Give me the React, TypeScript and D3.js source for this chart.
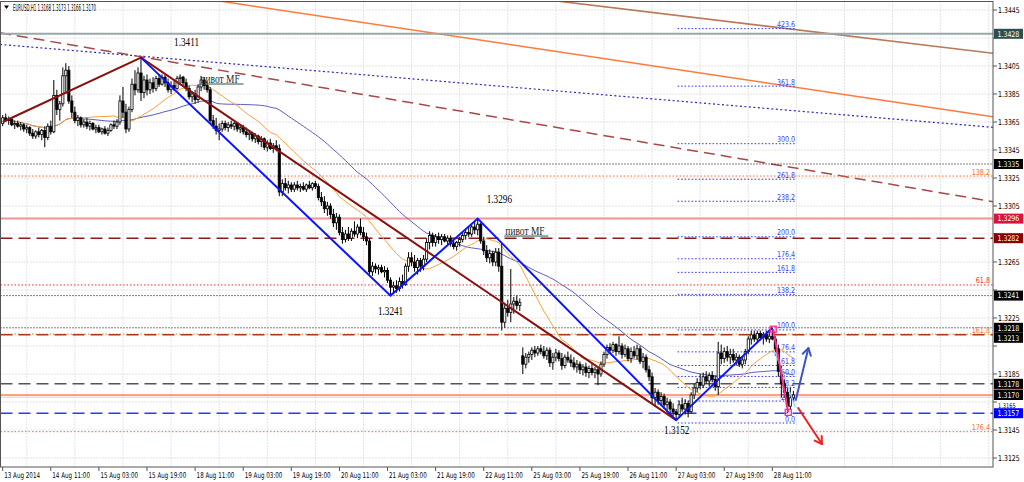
import React from 'react';
import * as d3 from 'd3';

const W = 1024;
const H = 482;

// ---------------- data ----------------
const SYMBOL = 'EURUSD,H1';
const LAST_OHLC = ['1.3168', '1.3173', '1.3166', '1.3170'];

const X_TICK_LABELS = [
  '13 Aug 2014', '14 Aug 11:00', '15 Aug 03:00', '15 Aug 19:00', '18 Aug 11:00', '19 Aug 03:00',
  '19 Aug 19:00', '20 Aug 11:00', '21 Aug 03:00', '21 Aug 19:00', '22 Aug 11:00', '25 Aug 03:00',
  '25 Aug 19:00', '26 Aug 11:00', '27 Aug 03:00', '27 Aug 19:00', '28 Aug 11:00',
];
const X_TICK_STEP = 16; // bars between time labels

const Y_TICKS = [
  1.3445, 1.3425, 1.3405, 1.3385, 1.3365, 1.3345, 1.3325, 1.3305, 1.3285,
  1.3265, 1.3245, 1.3225, 1.3205, 1.3185, 1.3165, 1.3145, 1.3125,
];

// hourly candles, [open, high, low, close] in 1/10000 above 1.0000
const CANDLES: [number, number, number, number][] = [
  [3364,3370,3362,3368],[3368,3371,3365,3366],[3366,3369,3363,3367],[3367,3368,3362,3363],[3363,3366,3360,3364],[3364,3366,3361,3362],[3362,3365,3359,3363],[3363,3364,3358,3360],[3360,3363,3357,3361],[3361,3362,3355,3357],
  [3357,3360,3353,3355],[3355,3359,3353,3358],[3358,3361,3354,3356],[3356,3360,3352,3359],[3359,3362,3347,3354],[3354,3364,3352,3362],[3362,3366,3356,3358],[3358,3395,3357,3384],[3384,3388,3370,3374],[3374,3380,3366,3378],
  [3378,3404,3376,3398],[3398,3407,3385,3402],[3402,3405,3378,3380],[3380,3384,3368,3372],[3372,3376,3364,3366],[3366,3370,3362,3368],[3368,3369,3361,3363],[3363,3367,3361,3365],[3365,3368,3360,3362],[3362,3366,3359,3364],
  [3364,3365,3359,3360],[3360,3363,3357,3361],[3361,3363,3357,3358],[3358,3361,3356,3360],[3360,3362,3356,3357],[3357,3361,3355,3359],[3359,3364,3358,3363],[3363,3366,3360,3362],[3362,3367,3360,3365],[3365,3384,3363,3380],
  [3380,3390,3368,3372],[3372,3378,3357,3360],[3360,3376,3358,3374],[3374,3396,3372,3392],[3392,3402,3384,3388],[3388,3404,3386,3400],[3400,3411,3380,3386],[3386,3398,3382,3395],[3395,3399,3384,3388],[3388,3396,3385,3393],
  [3393,3397,3386,3389],[3389,3398,3387,3396],[3396,3399,3390,3392],[3392,3399,3391,3397],[3397,3399,3390,3393],[3393,3396,3386,3388],[3388,3394,3385,3391],[3391,3395,3387,3389],[3389,3398,3388,3396],[3396,3399,3392,3397],
  [3397,3398,3391,3393],[3393,3396,3387,3389],[3389,3391,3381,3383],[3383,3387,3379,3385],[3385,3388,3378,3381],[3381,3392,3379,3390],[3390,3398,3387,3395],[3395,3397,3388,3391],[3391,3394,3386,3388],[3388,3390,3364,3366],
  [3366,3370,3360,3362],[3362,3368,3356,3359],[3359,3364,3352,3360],[3360,3366,3358,3364],[3364,3366,3359,3361],[3361,3365,3358,3363],[3363,3366,3360,3362],[3362,3365,3359,3364],[3364,3365,3358,3360],[3360,3363,3357,3361],
  [3361,3363,3356,3358],[3358,3361,3354,3356],[3356,3359,3352,3357],[3357,3358,3351,3353],[3353,3357,3350,3355],[3355,3356,3349,3351],[3351,3355,3347,3353],[3353,3354,3345,3347],[3347,3352,3344,3350],[3350,3353,3345,3346],
  [3346,3350,3343,3348],[3348,3352,3344,3346],[3346,3349,3312,3315],[3315,3324,3312,3321],[3321,3325,3316,3318],[3318,3323,3314,3320],[3320,3322,3315,3317],[3317,3322,3315,3320],[3320,3323,3316,3318],[3318,3321,3315,3319],
  [3319,3322,3316,3317],[3317,3321,3315,3320],[3320,3323,3317,3318],[3318,3322,3316,3321],[3321,3323,3317,3319],[3319,3321,3309,3311],[3311,3315,3305,3308],[3308,3312,3300,3303],[3303,3308,3298,3305],[3305,3307,3296,3299],
  [3299,3303,3290,3293],[3293,3300,3288,3297],[3297,3299,3284,3286],[3286,3290,3278,3281],[3281,3288,3279,3285],[3285,3290,3280,3282],[3282,3289,3280,3287],[3287,3294,3283,3285],[3285,3292,3282,3290],[3290,3296,3284,3286],
  [3286,3290,3280,3283],[3283,3286,3277,3280],[3280,3282,3256,3258],[3258,3265,3255,3262],[3262,3264,3257,3260],[3260,3263,3256,3261],[3261,3263,3257,3258],[3258,3262,3254,3259],[3259,3261,3250,3252],[3252,3254,3241,3247],
  [3247,3251,3243,3248],[3248,3252,3243,3246],[3246,3254,3244,3251],[3251,3256,3246,3249],[3249,3264,3248,3262],[3262,3272,3258,3268],[3268,3272,3262,3265],[3265,3270,3258,3261],[3261,3268,3256,3266],[3266,3268,3258,3262],
  [3262,3270,3259,3267],[3267,3282,3265,3279],[3279,3287,3274,3284],[3284,3286,3276,3279],[3279,3285,3276,3283],[3283,3286,3278,3281],[3281,3285,3277,3283],[3283,3285,3279,3280],[3280,3284,3277,3282],[3282,3284,3276,3278],
  [3278,3281,3274,3276],[3276,3280,3273,3279],[3279,3283,3276,3281],[3281,3286,3279,3284],[3284,3288,3281,3286],[3286,3290,3283,3285],[3285,3292,3283,3290],[3290,3294,3285,3288],[3288,3296,3284,3292],[3292,3293,3278,3280],
  [3280,3283,3270,3273],[3273,3277,3265,3268],[3268,3274,3264,3271],[3271,3273,3262,3265],[3265,3275,3262,3272],[3272,3275,3258,3262],[3262,3278,3216,3222],[3222,3236,3218,3232],[3232,3238,3226,3229],[3229,3260,3222,3235],
  [3235,3240,3228,3237],[3237,3241,3231,3234],[3234,3239,3230,3236],[3198,3204,3185,3192],[3192,3200,3189,3197],[3197,3201,3193,3199],[3199,3204,3195,3202],[3202,3205,3197,3200],[3200,3205,3198,3203],[3203,3206,3199,3201],
  [3201,3205,3196,3198],[3198,3204,3195,3202],[3202,3204,3190,3193],[3193,3200,3188,3197],[3197,3203,3194,3200],[3200,3202,3194,3196],[3196,3200,3188,3191],[3191,3199,3189,3197],[3197,3201,3193,3195],[3195,3199,3190,3193],
  [3193,3197,3188,3190],[3190,3195,3186,3192],[3192,3194,3185,3188],[3188,3192,3184,3190],[3190,3193,3183,3186],[3186,3191,3182,3189],[3189,3192,3184,3186],[3186,3190,3182,3188],[3188,3190,3177,3185],[3185,3194,3183,3192],
  [3192,3201,3190,3199],[3199,3206,3196,3204],[3204,3207,3199,3202],[3202,3208,3200,3206],[3206,3207,3198,3201],[3201,3212,3199,3205],[3205,3207,3196,3199],[3199,3206,3197,3203],[3203,3205,3194,3196],[3196,3204,3193,3201],
  [3201,3205,3196,3198],[3198,3206,3195,3203],[3203,3205,3192,3194],[3194,3200,3189,3197],[3197,3199,3186,3188],[3188,3191,3180,3183],[3183,3186,3164,3168],[3168,3175,3162,3172],[3172,3174,3163,3166],[3166,3172,3162,3169],
  [3169,3171,3160,3163],[3163,3168,3158,3165],[3165,3167,3157,3160],[3160,3164,3155,3158],[3158,3160,3152,3156],[3156,3166,3154,3163],[3163,3168,3158,3160],[3160,3167,3156,3164],[3164,3166,3154,3158],[3158,3172,3157,3170],
  [3170,3178,3167,3175],[3175,3182,3172,3179],[3179,3185,3174,3177],[3177,3186,3175,3183],[3183,3187,3178,3180],[3180,3186,3176,3184],[3184,3187,3179,3181],[3181,3184,3173,3176],[3176,3208,3170,3200],[3200,3206,3192,3196],
  [3196,3204,3193,3201],[3201,3205,3194,3197],[3197,3203,3192,3199],[3199,3203,3193,3195],[3195,3200,3191,3197],[3197,3199,3190,3192],[3192,3198,3189,3195],[3195,3203,3192,3201],[3201,3212,3199,3210],[3210,3216,3206,3213],
  [3213,3216,3208,3210],[3210,3216,3207,3214],[3214,3216,3209,3211],[3211,3215,3206,3213],[3213,3216,3208,3210],[3210,3215,3207,3212],[3212,3218,3209,3210],[3210,3212,3198,3203],[3203,3206,3183,3187],[3187,3191,3168,3178],
  [3178,3184,3168,3172],[3172,3176,3157,3162],[3162,3175,3160,3168],[3168,3173,3166,3170],
];

// moving average periods
const MA_FAST = 21;
const MA_SLOW = 50;

// horizontal price levels shown with boxes on the price axis
const LEVEL_PRICES = [1.3428, 1.3335, 1.3296, 1.3282, 1.3241, 1.3218, 1.3213, 1.3178, 1.3170, 1.3157];
const ASK_PRICE = 1.3173;

// second fibonacci grid (labels at right edge)
const FIB2_PRICES = [1.33264, 1.32486, 1.32135, 1.31438];
const FIB2_LABELS = ['138.2', '61.8', '161.8', '176.4'];

// fibonacci expansion on the last swing
const FIB_LEVELS = [0, 23.6, 38.2, 50, 61.8, 76.4, 100, 138.2, 161.8, 176.4, 200, 238.2, 261.8, 300, 361.8, 423.6];
const FIB_BASE = 1.3150;
const FIB_TOP = 1.32165;
const FIB_BARS = [224.5, 263.6];

// zigzag legs: [bar, price]
const ZIGZAG_MAROON: [number, number][] = [[0, 1.3365], [46, 1.3411], [224, 1.3152]];
const ZIGZAG_BLUE: [number, number][] = [[46, 1.3411], [129, 1.3241], [158, 1.3296], [224, 1.3152], [256, 1.3218]];
const LEG_PINK: [number, number][] = [[256.3, 1.3217], [261.3, 1.31576]];
const LEG_CYAN: [number, number][] = [[256.9, 1.32007], [263.6, 1.31614]];

// sloped trend lines: two anchors each [bar, price]
const TREND_ORANGE: [number, number][] = [[70, 1.34521], [329.4, 1.33688]];
const TREND_BROWN: [number, number][] = [[181.7, 1.34521], [329.4, 1.34141]];
const TREND_BLUE_DOT: [number, number][] = [[-0.9, 1.34204], [329.4, 1.33612]];
const TREND_RED_DASH: [number, number][] = [[-0.9, 1.34287], [329.4, 1.33081]];

// forecast arrows
const ARROW_UP: [number, number][] = [[263.8, 1.31665], [268, 1.32035]];
const ARROW_DOWN: [number, number][] = [[264.6, 1.31607], [272.5, 1.3135]];

// text notes: [bar, price, text]
const PRICE_NOTES: [number, number, string][] = [
  [57, 1.34193, '1.3411'],
  [161, 1.33071, '1.3296'],
  [124.8, 1.32271, '1.3241'],
  [220, 1.31421, '1.3152'],
];
const PIVOT_NOTES: [number, number, string][] = [
  [65.8, 1.33932, 'пивот MF'],
  [167.2, 1.32846, 'пивот MF'],
];

// ---------------- scales ----------------
const PLOT_L = 0.5;
const PLOT_R = 993;
const PLOT_T = 1.5;
const PLOT_B = 467;
const BOX_H = 10;

const xs = d3.scaleLinear().domain([0, 329.4]).range([2.7, 993]);
const ys = d3.scaleLinear().domain([1.3445, 1.3125]).range([10, 458]);
const px = (v: number) => 1 + v / 10000;

const SANS = 'Tahoma, "DejaVu Sans", "Liberation Sans", Arial, sans-serif';
const SERIF = '"Liberation Serif", "Times New Roman", serif';

function CT(props: any) {
  const { x, y, sx = 1, anchor = 'start', size = 8, family = SANS, fill = '#000', children } = props;
  return (
    <text transform={`translate(${x},${y}) scale(${sx},1)`} textAnchor={anchor} fontSize={size} fontFamily={family} fill={fill}>
      {children}
    </text>
  );
}

function sma(vals: number[], n: number) {
  return vals.map((_, i) => d3.mean(vals.slice(Math.max(0, i - n + 1), i + 1)) as number);
}

function Arrow({ pts, color }: { pts: [number, number][]; color: string }) {
  const x0 = xs(pts[0][0]), y0 = ys(pts[0][1]), x1 = xs(pts[1][0]), y1 = ys(pts[1][1]);
  const ang = Math.atan2(y1 - y0, x1 - x0);
  const L = 8, a = 0.55;
  const w1 = [x1 - L * Math.cos(ang - a), y1 - L * Math.sin(ang - a)];
  const w2 = [x1 - L * Math.cos(ang + a), y1 - L * Math.sin(ang + a)];
  return (
    <g stroke={color} strokeWidth={2} fill="none" strokeLinecap="round" strokeLinejoin="round">
      <line x1={x0} y1={y0} x2={x1} y2={y1} />
      <polyline points={`${w1[0]},${w1[1]} ${x1},${y1} ${w2[0]},${w2[1]}`} />
    </g>
  );
}

const LEVEL_STYLE: Record<string, { stroke: string; w: number; dash?: string; box: string }> = {
  '1.3428': { stroke: '#97a9a9', w: 2, box: '#2f4f4f' },
  '1.3335': { stroke: '#000', w: 1, dash: '1,2', box: '#000' },
  '1.3296': { stroke: '#f29494', w: 2, box: '#dc143c' },
  '1.3282': { stroke: '#8b1a1a', w: 1.5, dash: '12,6', box: '#8b0000' },
  '1.3241': { stroke: '#000', w: 1, dash: '1,2', box: '#000' },
  '1.3218': { stroke: '#000', w: 1, dash: '1,2', box: '#000' },
  '1.3213': { stroke: '#a83a18', w: 1.5, dash: '12,6', box: '#000' },
  '1.3178': { stroke: '#555', w: 1.5, dash: '12,6', box: '#000' },
  '1.3170': { stroke: '#f4845f', w: 1.5, box: '#000' },
  '1.3157': { stroke: '#1f3cff', w: 1.5, dash: '12,6', box: '#0000ff' },
};
const FIB2_COLORS = ['#ff6a30', '#ff2a2a', '#ff6a30', '#ff6a30'];

export default function App() {
  const closes = CANDLES.map((c) => px(c[3]));
  const fast = sma(closes, MA_FAST);
  const slow = sma(closes, MA_SLOW);
  const maLine = d3.line<number>().x((_, i) => xs(i)).y((v) => ys(v));
  const ptLine = d3.line<[number, number]>().x((d) => xs(d[0])).y((d) => ys(d[1]));

  const gridX: number[] = [];
  for (let k = 0; ; k++) {
    const gx = xs(8 + k * X_TICK_STEP);
    if (gx >= PLOT_R) break;
    gridX.push(gx);
  }

  const fibY = (lv: number) => ys(FIB_BASE + (FIB_TOP - FIB_BASE) * lv / 100);

  // price boxes: stack boxes that would collide
  const boxCenters: number[] = [];
  LEVEL_PRICES.map((p) => ys(p)).forEach((y, i) => {
    const prev = i > 0 ? boxCenters[i - 1] : -100;
    boxCenters.push(y < prev + BOX_H ? prev + BOX_H : y);
  });

  // tick labels that would sit under a price box are hidden (as the terminal does);
  // a label squeezed between two boxes is drawn smaller in the gap
  const tickInfo = Y_TICKS.map((t) => {
    const y = ys(t);
    const hit = boxCenters.some((b) => Math.abs(b - y) < 9);
    if (!hit) return { t, y: y + 3, size: 8, show: true };
    const above = boxCenters.filter((b) => b <= y && y - b < 11);
    const below = boxCenters.filter((b) => b > y && b - y < 16);
    if (above.length && below.length) {
      const gapTop = Math.max(...above) + BOX_H / 2;
      const gapBot = Math.min(...below) - BOX_H / 2;
      if (gapBot - gapTop >= 6) return { t, y: gapBot - 0.5, size: 6.5, show: true };
    }
    return { t, y, size: 8, show: false };
  });

  return (
    <svg width={W} height={H} style={{ position: 'absolute', left: 0, top: 0, background: '#fff' }}>
      <defs>
        <clipPath id="plot">
          <rect x={PLOT_L} y={PLOT_T} width={PLOT_R - PLOT_L} height={PLOT_B - PLOT_T} />
        </clipPath>
      </defs>
      <rect x={0} y={0} width={W} height={H} fill="#fff" />

      <g clipPath="url(#plot)">
        {/* grid */}
        {gridX.map((gx, i) => (
          <line key={'gx' + i} x1={gx} x2={gx} y1={PLOT_T} y2={PLOT_B} stroke="#c8c8c8" strokeDasharray="1,2" />
        ))}
        {Y_TICKS.map((t, i) => (
          <line key={'gy' + i} x1={PLOT_L} x2={PLOT_R} y1={ys(t)} y2={ys(t)} stroke="#c8c8c8" strokeDasharray="1,2" />
        ))}

        {/* sloped trend lines */}
        <path d={ptLine(TREND_BROWN) as string} stroke="#b97a58" strokeWidth={1.6} fill="none" />
        <path d={ptLine(TREND_ORANGE) as string} stroke="#ff7a3c" strokeWidth={1.5} fill="none" />
        <path d={ptLine(TREND_BLUE_DOT) as string} stroke="#2828c0" strokeWidth={1.2} strokeDasharray="2,2.5" fill="none" />
        <path d={ptLine(TREND_RED_DASH) as string} stroke="#a84848" strokeWidth={1.5} strokeDasharray="11,6" fill="none" />

        {/* second fib grid */}
        {FIB2_PRICES.map((p, i) => (
          <line key={'f2' + i} x1={PLOT_L} x2={PLOT_R} y1={ys(p)} y2={ys(p)} stroke={FIB2_COLORS[i]} strokeDasharray="1.5,2" />
        ))}

        {/* horizontal levels */}
        {LEVEL_PRICES.map((p, i) => {
          const s = LEVEL_STYLE[p.toFixed(4)];
          return (
            <line key={'lv' + i} x1={PLOT_L} x2={PLOT_R} y1={ys(p)} y2={ys(p)} stroke={s.stroke} strokeWidth={s.w} strokeDasharray={s.dash} />
          );
        })}
        <line x1={PLOT_L} x2={PLOT_R} y1={ys(1.31685)} y2={ys(1.31685)} stroke="#f4c4c4" strokeWidth={1} />

        {/* fibonacci expansion */}
        {FIB_LEVELS.map((lv, i) => (
          <g key={'fb' + i}>
            <line x1={xs(FIB_BARS[0])} x2={xs(FIB_BARS[1])} y1={fibY(lv)} y2={fibY(lv)} stroke="#3030ff" strokeDasharray="1.5,2" />
            <CT x={xs(FIB_BARS[1])} y={fibY(lv) - 1.5} anchor="end" size={8} sx={0.8} fill="#3c3cff">
              {lv.toFixed(1)}
            </CT>
          </g>
        ))}

        {/* moving averages */}
        <path d={maLine(slow) as string} stroke="#5a5ac8" strokeWidth={1} fill="none" />
        <path d={maLine(fast) as string} stroke="#f7a035" strokeWidth={1} fill="none" />

        {/* candles */}
        {CANDLES.map((c, i) => {
          const x = xs(i);
          const o = ys(px(c[0])), h = ys(px(c[1])), l = ys(px(c[2])), cl = ys(px(c[3]));
          const up = c[3] >= c[0];
          const top = Math.min(o, cl);
          const bh = Math.max(1, Math.abs(o - cl));
          return (
            <g key={'c' + i}>
              <line x1={x} x2={x} y1={h} y2={l} stroke="#000" strokeWidth={1} />
              <rect x={x - 1.1} y={top} width={2.2} height={bh} fill={up ? '#ffffff' : '#000'} stroke="#000" strokeWidth={0.8} />
            </g>
          );
        })}

        {/* zigzags */}
        <path d={ptLine(ZIGZAG_MAROON) as string} stroke="#8b1010" strokeWidth={2} fill="none" />
        <path d={ptLine(ZIGZAG_BLUE) as string} stroke="#0a14ff" strokeWidth={2} fill="none" />
        <path d={ptLine(LEG_CYAN) as string} stroke="#8fd0f5" strokeWidth={1.2} fill="none" />
        <path d={ptLine(LEG_PINK) as string} stroke="#ff2a8a" strokeWidth={2} fill="none" />
        {LEG_PINK.map((p, i) => (
          <rect key={'sq' + i} x={xs(p[0]) - 3} y={ys(p[1]) - 3} width={6} height={6} fill="none" stroke="#ff2a8a" strokeWidth={1.3} />
        ))}

        {/* arrows */}
        <Arrow pts={ARROW_UP} color="#3a52cc" />
        <Arrow pts={ARROW_DOWN} color="#ee2222" />

        {/* notes */}
        {PRICE_NOTES.map((n, i) => (
          <CT key={'pn' + i} x={xs(n[0])} y={ys(n[1])} size={11.5} sx={0.8} family={SERIF}>
            {n[2]}
          </CT>
        ))}
        {PIVOT_NOTES.map((n, i) => (
          <g key={'pv' + i}>
            <CT x={xs(n[0])} y={ys(n[1])} size={11.5} sx={0.82} family={SERIF} fill="#1a2a2a">
              {n[2]}
            </CT>
            <line x1={xs(n[0]) - 1} x2={xs(n[0]) + 43} y1={ys(n[1]) + 1.5} y2={ys(n[1]) + 1.5} stroke="#2f4f4f" strokeWidth={1} />
          </g>
        ))}

        {/* second fib labels */}
        {FIB2_PRICES.map((p, i) => (
          <CT key={'f2l' + i} x={PLOT_R - 3} y={ys(p) - 1.5} anchor="end" size={8} sx={0.8} fill={FIB2_COLORS[i]}>
            {FIB2_LABELS[i]}
          </CT>
        ))}
      </g>

      {/* frame */}
      <rect x={PLOT_L} y={PLOT_T} width={PLOT_R - PLOT_L} height={PLOT_B - PLOT_T} fill="none" stroke="#555" strokeWidth={1} />

      {/* title */}
      <path d="M4,5.5 L9,5.5 L6.5,9 Z" fill="#000" />
      <text x={13} y={10.5} fontSize={8} fontFamily={SANS} fill="#000" textLength={83} lengthAdjust="spacingAndGlyphs">
        {`${SYMBOL}  ${LAST_OHLC.join(' ')}`}
      </text>

      {/* price axis */}
      {tickInfo.map((ti, i) => (
        <g key={'yt' + i}>
          <line x1={PLOT_R} x2={PLOT_R + 4} y1={ys(ti.t)} y2={ys(ti.t)} stroke="#555" />
          {ti.show && (
            <CT x={998} y={ti.y} size={ti.size} sx={0.78}>
              {ti.t.toFixed(4)}
            </CT>
          )}
        </g>
      ))}
      <rect x={994} y={ys(ASK_PRICE) - BOX_H / 2} width={29} height={BOX_H} fill="#ff4a1a" />
      {LEVEL_PRICES.map((p, i) => {
        const s = LEVEL_STYLE[p.toFixed(4)];
        const cy = boxCenters[i];
        return (
          <g key={'bx' + i}>
            <rect x={994} y={cy - BOX_H / 2} width={29} height={BOX_H} fill={s.box} />
            <CT x={997.5} y={cy + 2.8} size={7.8} sx={0.8} fill="#fff">
              {p.toFixed(4)}
            </CT>
          </g>
        );
      })}

      {/* time axis */}
      {X_TICK_LABELS.map((lab, i) => {
        const tx = xs(i * X_TICK_STEP);
        return (
          <g key={'xt' + i}>
            <line x1={tx} x2={tx} y1={PLOT_B} y2={PLOT_B + 4} stroke="#555" />
            <CT x={tx + 1.5} y={478} size={8} sx={0.7}>
              {lab}
            </CT>
          </g>
        );
      })}
    </svg>
  );
}
